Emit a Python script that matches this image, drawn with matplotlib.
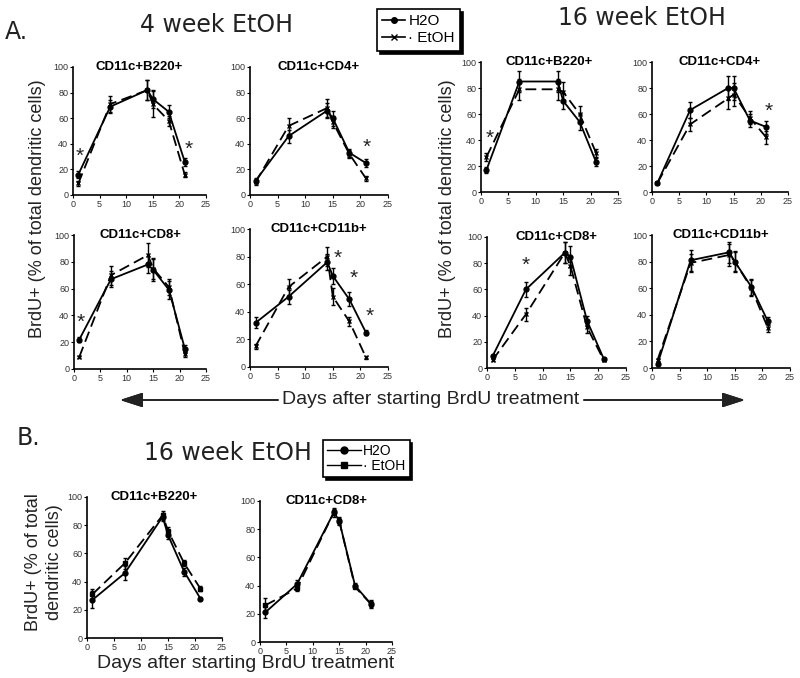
"""
BrdU uptake of dendritic cell subsets, H2O vs EtOH (4 and 16 weeks)
"""

import matplotlib
matplotlib.use('Agg')
import matplotlib.pyplot as plt
from matplotlib.lines import Line2D


# days after starting BrdU
days = [1, 7, 14, 15, 18, 21]

# ---- A. 4 week EtOH
b220_4_h2o = [16, 69, 82, 75, 65, 26]
b220_4_h2o_err = [3, 5, 8, 7, 5, 3]
b220_4_etoh = [9, 71, 82, 71, 58, 16]
b220_4_etoh_err = [2, 6, 8, 10, 4, 2]

cd4_4_h2o = [11, 46, 66, 60, 33, 25]
cd4_4_h2o_err = [2, 5, 6, 6, 3, 3]
cd4_4_etoh = [10, 54, 68, 57, 32, 13]
cd4_4_etoh_err = [2, 6, 7, 5, 3, 2]

cd8_4_h2o = [22, 67, 78, 74, 59, 15]
cd8_4_h2o_err = [2, 6, 6, 8, 7, 3]
cd8_4_etoh = [9, 70, 85, 75, 61, 11]
cd8_4_etoh_err = [1, 7, 9, 8, 6, 2]

cd11b_4_h2o = [32, 51, 76, 66, 49, 25]
cd11b_4_h2o_err = [4, 5, 6, 6, 5, 2]
cd11b_4_etoh = [15, 58, 80, 51, 33, 7]
cd11b_4_etoh_err = [2, 6, 7, 6, 3, 1]

# ---- A. 16 week EtOH
b220_16_h2o = [17, 85, 85, 70, 54, 23]
b220_16_h2o_err = [2, 8, 8, 6, 6, 3]
b220_16_etoh = [27, 79, 79, 77, 60, 30]
b220_16_etoh_err = [3, 8, 8, 8, 6, 3]

cd4_16_h2o = [7, 63, 80, 80, 55, 50]
cd4_16_h2o_err = [1, 6, 9, 9, 5, 5]
cd4_16_etoh = [7, 52, 72, 75, 57, 42]
cd4_16_etoh_err = [1, 5, 8, 9, 5, 5]

cd8_16_h2o = [9, 60, 88, 85, 36, 7]
cd8_16_h2o_err = [1, 6, 8, 8, 4, 1]
cd8_16_etoh = [6, 41, 88, 78, 31, 6]
cd8_16_etoh_err = [1, 5, 8, 7, 4, 1]

cd11b_16_h2o = [3, 81, 87, 80, 61, 35]
cd11b_16_h2o_err = [1, 8, 8, 8, 6, 3]
cd11b_16_etoh = [6, 79, 85, 80, 60, 30]
cd11b_16_etoh_err = [1, 7, 8, 7, 6, 3]

# ---- B. 16 week EtOH
b220_b_h2o = [27, 46, 86, 73, 47, 28]
b220_b_h2o_err = [6, 5, 3, 3, 3, 1]
b220_b_etoh = [31, 53, 87, 76, 53, 35]
b220_b_etoh_err = [4, 4, 3, 3, 2, 2]

cd8_b_h2o = [21, 41, 92, 86, 40, 27]
cd8_b_h2o_err = [4, 3, 3, 3, 2, 3]
cd8_b_etoh = [26, 38, 92, 86, 39, 27]
cd8_b_etoh_err = [5, 2, 2, 2, 1, 2]

# significance stars (day, value)
stars_b220_4 = [(1.2, 30), (21.8, 36)]
stars_cd4_4 = [(21.2, 37)]
stars_cd8_4 = [(1.2, 35)]
stars_cd11b_4 = [(15.8, 79), (18.7, 64), (21.7, 37)]
stars_b220_16 = [(1.6, 41)]
stars_cd4_16 = [(21.5, 62)]
stars_cd8_16 = [(7.0, 78)]

x_ticks = [0, 5, 10, 15, 20, 25]
y_ticks = [0, 20, 40, 60, 80, 100]

W, H = 800, 678
fig = plt.figure(figsize=(8, 6.78), dpi=100)

arial = ['Liberation Sans', 'DejaVu Sans']


def box(x0, x1, y0, y1):
    # pixel box -> figure fraction rect
    return [x0 / W, (H - y1) / H, (x1 - x0) / W, (y1 - y0) / H]


def draw_panel(rect, title, h2o, h2o_err, etoh, etoh_err, emark, stars=()):
    ax = fig.add_axes(rect)
    ax.errorbar(days, h2o, yerr=h2o_err, color='black', lw=1.3, marker='o',
                ms=3.5, capsize=1.5, elinewidth=1.0)
    ax.errorbar(days, etoh, yerr=etoh_err, color='black', lw=1.3, ls=(0, (6, 3)),
                marker=emark, ms=3.5, mew=1.0,
                capsize=1.5, elinewidth=1.0)
    for sx, sy in stars:
        ax.text(sx, sy, '*', ha='center', va='center', fontsize=15,
                family=arial, color='#222222')
    ax.set_xlim(0, 25)
    ax.set_ylim(0, 100)
    ax.set_xticks(x_ticks)
    ax.set_yticks(y_ticks)
    ax.spines['top'].set_visible(False)
    ax.spines['right'].set_visible(False)
    ax.spines['left'].set_linewidth(1.2)
    ax.spines['bottom'].set_linewidth(1.2)
    ax.tick_params(labelsize=6.5, length=2, width=0.8, pad=1.5,
                   labelcolor='#333333')
    for lab in ax.get_xticklabels() + ax.get_yticklabels():
        lab.set_family(arial)
    ax.text(0.5, 1.0, title, transform=ax.transAxes, ha='center',
            va='center', fontsize=9.5, fontweight='bold', family=arial)
    ax.patch.set_alpha(0)
    return ax


# A, 4 week
draw_panel(box(73, 206, 67, 195), 'CD11c+B220+', b220_4_h2o, b220_4_h2o_err,
           b220_4_etoh, b220_4_etoh_err, 'x', stars_b220_4)
draw_panel(box(250, 388, 67, 195), 'CD11c+CD4+', cd4_4_h2o, cd4_4_h2o_err,
           cd4_4_etoh, cd4_4_etoh_err, 'x', stars_cd4_4)
draw_panel(box(74, 206, 235, 369), 'CD11c+CD8+', cd8_4_h2o, cd8_4_h2o_err,
           cd8_4_etoh, cd8_4_etoh_err, 'x', stars_cd8_4)
draw_panel(box(250, 388, 229, 367), 'CD11c+CD11b+', cd11b_4_h2o, cd11b_4_h2o_err,
           cd11b_4_etoh, cd11b_4_etoh_err, 'x', stars_cd11b_4)

# A, 16 week
draw_panel(box(481, 618, 62, 192), 'CD11c+B220+', b220_16_h2o, b220_16_h2o_err,
           b220_16_etoh, b220_16_etoh_err, 'x', stars_b220_16)
draw_panel(box(652, 788, 62, 192), 'CD11c+CD4+', cd4_16_h2o, cd4_16_h2o_err,
           cd4_16_etoh, cd4_16_etoh_err, 'x', stars_cd4_16)
draw_panel(box(487, 626, 237, 368), 'CD11c+CD8+', cd8_16_h2o, cd8_16_h2o_err,
           cd8_16_etoh, cd8_16_etoh_err, 'x', stars_cd8_16)
draw_panel(box(652, 790, 235, 368), 'CD11c+CD11b+', cd11b_16_h2o, cd11b_16_h2o_err,
           cd11b_16_etoh, cd11b_16_etoh_err, 'x')

# B, 16 week
draw_panel(box(87, 222, 497, 638), 'CD11c+B220+', b220_b_h2o, b220_b_h2o_err,
           b220_b_etoh, b220_b_etoh_err, 's')
draw_panel(box(260, 392, 501, 642), 'CD11c+CD8+', cd8_b_h2o, cd8_b_h2o_err,
           cd8_b_etoh, cd8_b_etoh_err, 's')


def fx(px):
    return px / W


def fy(py):
    return (H - py) / H


# big headings
fig.text(fx(16), fy(32), 'A.', fontsize=17, ha='center', va='center', color='#222222')
fig.text(fx(28), fy(438), 'B.', fontsize=17, ha='center', va='center', color='#222222')
fig.text(fx(217), fy(25), '4 week EtOH', fontsize=17, ha='center', va='center', color='#222222')
fig.text(fx(642), fy(18), '16 week EtOH', fontsize=17, ha='center', va='center', color='#222222')
fig.text(fx(228), fy(453), '16 week EtOH', fontsize=17, ha='center', va='center', color='#222222')

# y labels
ylab = 'BrdU+ (% of total dendritic cells)'
fig.text(fx(38), fy(209), ylab, rotation=90, fontsize=13, family=arial,
         ha='center', va='center', color='#222222')
fig.text(fx(447), fy(209), ylab, rotation=90, fontsize=13, family=arial,
         ha='center', va='center', color='#222222')
fig.text(fx(44), fy(562), 'BrdU+ (% of total\ndendritic cells)', rotation=90,
         fontsize=13, family=arial, ha='center', va='center',
         linespacing=1.3, color='#222222')

# x labels
fig.text(fx(431), fy(400), 'Days after starting BrdU treatment', fontsize=14,
         family=arial, ha='center', va='center', color='#222222')
fig.text(fx(246), fy(663), 'Days after starting BrdU treatment', fontsize=14,
         family=arial, ha='center', va='center', color='#222222')

arrow = dict(arrowstyle='-|>,head_length=1.4,head_width=0.45', color='#222222',
             lw=1.2, shrinkA=0, shrinkB=0)
fig.add_artist(plt.annotate('', xy=(fx(120), fy(400)), xytext=(fx(278), fy(400)),
                            xycoords='figure fraction', arrowprops=arrow))
fig.add_artist(plt.annotate('', xy=(fx(745), fy(400)), xytext=(fx(584), fy(400)),
                            xycoords='figure fraction', arrowprops=arrow))

# legends
h_a = [Line2D([], [], color='black', lw=1.2, marker='o', ms=4),
       Line2D([], [], color='black', lw=1.2, marker='x', ms=4)]
leg_a = fig.legend(h_a, ['H2O', '· EtOH'], loc='upper left',
                   bbox_to_anchor=(fx(377), fy(9)), borderaxespad=0,
                   frameon=True, fancybox=False,
                   shadow={'color': 'black', 'alpha': 1}, handlelength=1.5,
                   handletextpad=0.2, borderpad=0.35, labelspacing=0.2,
                   prop={'family': arial, 'size': 11})
leg_a.get_frame().set_edgecolor('black')
leg_a.get_frame().set_linewidth(1.2)

h_b = [Line2D([], [], color='black', lw=1.0, marker='o', ms=5),
       Line2D([], [], color='black', lw=1.0, marker='s', ms=5)]
leg_b = fig.legend(h_b, ['H2O', '· EtOH'], loc='upper left',
                   bbox_to_anchor=(fx(323), fy(440)), borderaxespad=0,
                   frameon=True, fancybox=False,
                   shadow={'color': 'black', 'alpha': 1}, handlelength=2.4,
                   handletextpad=0.2, borderpad=0.3, labelspacing=0.05,
                   prop={'family': arial, 'size': 10})
leg_b.get_frame().set_edgecolor('black')
leg_b.get_frame().set_linewidth(1.2)

fig.savefig('out.png', dpi=100)
